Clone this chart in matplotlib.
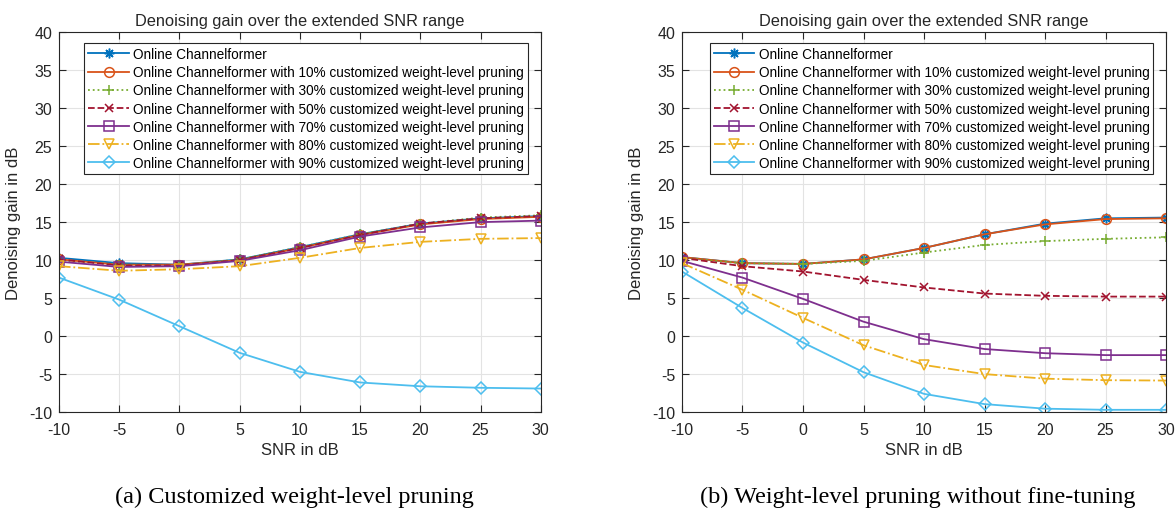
import matplotlib.pyplot as plt
import numpy as np

plt.rcParams['font.family'] = ['Liberation Sans', 'DejaVu Sans']
plt.rcParams['axes.unicode_minus'] = False

snr = [-10, -5, 0, 5, 10, 15, 20, 25, 30]

labels = [
    'Online Channelformer',
    'Online Channelformer with 10% customized weight-level pruning',
    'Online Channelformer with 30% customized weight-level pruning',
    'Online Channelformer with 50% customized weight-level pruning',
    'Online Channelformer with 70% customized weight-level pruning',
    'Online Channelformer with 80% customized weight-level pruning',
    'Online Channelformer with 90% customized weight-level pruning',
]

# (a) customized weight-level pruning
gain_a_online = [10.3, 9.6, 9.4, 10.1, 11.7, 13.4, 14.8, 15.5, 15.8]
gain_a_10 = [10.1, 9.4, 9.4, 10.0, 11.6, 13.3, 14.7, 15.4, 15.7]
gain_a_30 = [10.0, 9.4, 9.3, 10.1, 11.7, 13.4, 14.8, 15.6, 15.9]
gain_a_50 = [10.1, 9.3, 9.3, 10.0, 11.6, 13.3, 14.8, 15.5, 15.8]
gain_a_70 = [9.8, 9.1, 9.2, 9.9, 11.3, 13.1, 14.3, 15.0, 15.2]
gain_a_80 = [9.2, 8.6, 8.8, 9.2, 10.3, 11.6, 12.4, 12.8, 12.9]
gain_a_90 = [7.7, 4.8, 1.3, -2.2, -4.7, -6.1, -6.6, -6.8, -6.9]

# (b) weight-level pruning without fine-tuning
gain_b_online = [10.4, 9.6, 9.5, 10.1, 11.6, 13.4, 14.8, 15.5, 15.6]
gain_b_10 = [10.4, 9.6, 9.5, 10.1, 11.6, 13.4, 14.7, 15.4, 15.5]
gain_b_30 = [10.3, 9.6, 9.5, 9.9, 11.0, 12.0, 12.5, 12.8, 13.0]
gain_b_50 = [10.3, 9.2, 8.5, 7.4, 6.4, 5.6, 5.3, 5.2, 5.2]
gain_b_70 = [9.9, 7.7, 4.9, 1.9, -0.4, -1.7, -2.25, -2.5, -2.5]
gain_b_80 = [9.6, 6.1, 2.4, -1.2, -3.8, -5.0, -5.6, -5.8, -5.85]
gain_b_90 = [8.5, 3.7, -0.85, -4.75, -7.6, -8.95, -9.55, -9.7, -9.7]

series_a = [gain_a_online, gain_a_10, gain_a_30, gain_a_50, gain_a_70, gain_a_80, gain_a_90]
series_b = [gain_b_online, gain_b_10, gain_b_30, gain_b_50, gain_b_70, gain_b_80, gain_b_90]

# MATLAB default colours; (colour, marker, linestyle, markersize)
styles = [
    ('#0072BD', (8, 2, 0), '-', 7),
    ('#D95319', 'o', '-', 7),
    ('#77AC30', '+', ':', 7),
    ('#A2142F', 'x', '--', 6),
    ('#7E2F8E', 's', '-', 6.5),
    ('#EDB120', 'v', '-.', 7),
    ('#4DBEEE', 'D', '-', 6),
]

captions = ['(a) Customized weight-level pruning',
            '(b) Weight-level pruning without fine-tuning']

fig = plt.figure(figsize=(11.75, 5.1), dpi=100)
axes = [fig.add_axes([0.0502, 0.190, 0.410, 0.745]),
        fig.add_axes([0.5804, 0.190, 0.412, 0.745])]

txt = '#262626'
for ax, series, cap in zip(axes, [series_a, series_b], captions):
    for vals, lab, (c, m, ls, ms) in zip(series, labels, styles):
        ax.plot(snr, vals, color=c, marker=m, linestyle=ls, linewidth=1.3,
                markersize=ms, markerfacecolor='none', markeredgewidth=1.1,
                label=lab)
    ax.set_xlim(-10, 30)
    ax.set_ylim(-10, 40)
    ax.set_xticks(snr)
    ax.set_yticks(np.arange(-10, 41, 5))
    ax.grid(True, color='#e3e3e3', linewidth=0.8)
    ax.set_axisbelow(True)
    ax.tick_params(direction='in', top=True, right=True, labelsize=11.5,
                   colors=txt, length=5)
    ax.tick_params(axis='x', pad=7)
    ax.tick_params(axis='y', pad=5)
    for s in ax.spines.values():
        s.set_color(txt)
        s.set_linewidth(0.8)
    ax.set_title('Denoising gain over the extended SNR range', fontsize=11.8,
                 color=txt, pad=5)
    ax.set_xlabel('SNR in dB', fontsize=12, color=txt, labelpad=4)
    ax.set_ylabel('Denoising gain in dB', fontsize=12, color=txt, labelpad=6)
    leg = ax.legend(loc='upper right', bbox_to_anchor=(0.974, 0.971),
                    fontsize=9.8, frameon=True, fancybox=False, framealpha=1,
                    borderpad=0.3, labelspacing=0.3, handlelength=3.0,
                    handletextpad=0.3, borderaxespad=0)
    leg.get_frame().set_edgecolor(txt)
    leg.get_frame().set_linewidth(0.8)
    pos = ax.get_position()
    fig.text((pos.x0 + pos.x1) / 2 - 0.005, 0.024, cap,
             ha='center', va='center', fontsize=17.5,
             family=['Liberation Serif', 'DejaVu Serif'])

fig.savefig('out.png', dpi=100)
